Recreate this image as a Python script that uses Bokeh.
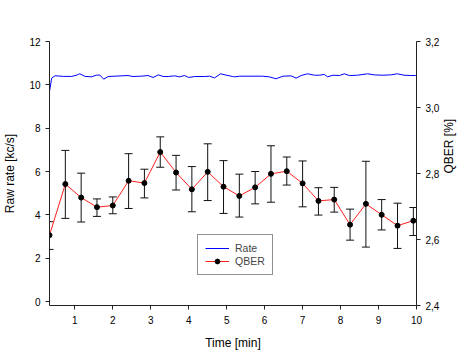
import math
from bokeh.plotting import figure
from bokeh.models import (Range1d, LinearAxis, FixedTicker, CustomJSTickFormatter, Whisker, TeeHead,
                          ColumnDataSource, Legend, LegendItem)
from bokeh.embed import file_html
from bokeh.resources import INLINE

# ---- data ----
rate_t = [0.333, 0.39, 0.48, 0.70, 0.92, 1.05, 1.13, 1.27, 1.44, 1.57, 1.66, 1.76, 1.88,
          2.40, 2.53, 2.75, 2.93, 3.06, 3.20, 3.33, 3.46, 3.63, 3.76, 3.89, 4.00, 4.16,
          4.42, 4.55, 4.68, 4.84, 4.98, 5.16, 5.21, 5.34, 5.94, 6.12, 6.30, 6.48, 6.70,
          6.83, 6.96, 7.13, 7.31, 7.44, 7.57, 7.66, 7.80, 7.97, 8.10, 8.23, 8.45, 8.71,
          8.89, 9.10, 9.32, 9.50, 9.67, 9.85, 9.98]
rate_v = [9.69, 10.31, 10.42, 10.39, 10.39, 10.45, 10.51, 10.39, 10.37, 10.45, 10.45, 10.26, 10.385,
          10.43, 10.385, 10.40, 10.43, 10.34, 10.46, 10.385, 10.385, 10.415, 10.37, 10.43, 10.34, 10.385,
          10.385, 10.40, 10.32, 10.51, 10.45, 10.385, 10.37, 10.40, 10.40, 10.37, 10.28, 10.40, 10.415,
          10.31, 10.43, 10.51, 10.445, 10.445, 10.48, 10.37, 10.445, 10.43, 10.51, 10.43, 10.445, 10.51,
          10.46, 10.445, 10.46, 10.51, 10.445, 10.43, 10.43]

qber_t = [0.333, 0.75, 1.167, 1.583, 2.0, 2.417, 2.833, 3.25, 3.667, 4.083, 4.5, 4.917,
          5.333, 5.75, 6.167, 6.583, 7.0, 7.417, 7.833, 8.25, 8.667, 9.083, 9.5, 9.917]
qber_v = [2.613, 2.768, 2.727, 2.698, 2.703, 2.778, 2.771, 2.865, 2.803, 2.752, 2.805, 2.760,
          2.732, 2.758, 2.799, 2.807, 2.770, 2.717, 2.721, 2.645, 2.708, 2.675, 2.642, 2.657]
qber_hi = [2.654, 2.870, 2.801, 2.723, 2.729, 2.860, 2.813, 2.911, 2.855, 2.821, 2.890, 2.839,
           2.798, 2.806, 2.884, 2.850, 2.838, 2.757, 2.758, 2.692, 2.837, 2.721, 2.710, 2.697]
qber_lo = [2.570, 2.664, 2.653, 2.670, 2.678, 2.694, 2.726, 2.819, 2.750, 2.684, 2.718, 2.679,
           2.668, 2.708, 2.713, 2.765, 2.699, 2.674, 2.683, 2.598, 2.577, 2.629, 2.573, 2.612]

x_ticks = [1, 2, 3, 4, 5, 6, 7, 8, 9, 10]
left_ticks = [0, 2, 4, 6, 8, 10, 12]
right_ticks = [2.4, 2.6, 2.8, 3.0, 3.2]

FONT = "Liberation Sans"

p = figure(width=466, height=352, output_backend="svg", toolbar_location=None,
           x_range=Range1d(0.333, 10), y_range=Range1d(-0.18, 12),
           min_border_left=47, min_border_right=50, min_border_top=41, min_border_bottom=45)
p.extra_y_ranges = {"qber": Range1d(2.4, 3.2)}
p.outline_line_color = None
p.grid.visible = False
p.background_fill_color = "white"
p.border_fill_color = "white"

# rate
r_rate = p.line(rate_t, rate_v, line_color="#0000ff", line_width=1)

# qber
src = ColumnDataSource(dict(x=qber_t, y=qber_v, hi=qber_hi, lo=qber_lo))
w = Whisker(source=src, base="x", upper="hi", lower="lo", dimension="height",
            y_range_name="qber", line_color="#111111", line_width=1,
            upper_head=TeeHead(size=8, line_color="#111111", line_width=1),
            lower_head=TeeHead(size=8, line_color="#111111", line_width=1))
p.add_layout(w)
r_ql = p.line("x", "y", source=src, y_range_name="qber", line_color="#ff2020", line_width=1)
r_qs = p.scatter("x", "y", source=src, y_range_name="qber", size=5, fill_color="black", line_color="black")

# axes styling
def style_axis(ax):
    ax.axis_line_color = "#222222"
    ax.major_tick_line_color = "#222222"
    ax.major_tick_out = 4
    ax.major_tick_in = 0
    ax.minor_tick_out = 0
    ax.minor_tick_in = 0
    ax.major_label_text_font = FONT
    ax.major_label_text_font_size = "10px"
    ax.major_label_text_color = "black"
    ax.axis_label_text_font = FONT
    ax.axis_label_text_font_size = "12px"
    ax.axis_label_text_font_style = "normal"
    ax.axis_label_text_color = "black"

xa = p.xaxis[0]
xa.ticker = FixedTicker(ticks=x_ticks)
xa.axis_label = "Time [min]"
style_axis(xa)
xa.major_label_standoff = 6
xa.axis_label_standoff = 9

ya = p.yaxis[0]
ya.ticker = FixedTicker(ticks=left_ticks)
ya.axis_label = "Raw rate [kc/s]"
style_axis(ya)
ya.major_label_standoff = 5
ya.axis_label_standoff = 9

ra = LinearAxis(y_range_name="qber", axis_label="QBER [%]")
ra.ticker = FixedTicker(ticks=right_ticks)
ra.formatter = CustomJSTickFormatter(code="return tick.toFixed(1).replace('.', ',');")
style_axis(ra)
ra.major_label_standoff = 5
ra.axis_label_standoff = 7
ra.axis_label_text_baseline = "top"
if hasattr(ra, "axis_label_orientation"):
    ra.axis_label_orientation = math.pi / 2
p.add_layout(ra, "right")

legend = Legend(items=[LegendItem(label="Rate", renderers=[r_rate]),
                       LegendItem(label="QBER", renderers=[r_ql, r_qs])],
                location=(148, 30), orientation="vertical")
legend.label_text_font = FONT
legend.label_text_font_size = "10.5px"
legend.glyph_width = 24
legend.glyph_height = 12
legend.label_standoff = 6
legend.label_height = 12
legend.padding = 7
legend.spacing = 1
legend.margin = 0
legend.border_line_color = "#222222"
legend.border_line_width = 1
legend.background_fill_alpha = 1
p.add_layout(legend, "center")

open("out.html", "w").write(file_html(p, INLINE))
